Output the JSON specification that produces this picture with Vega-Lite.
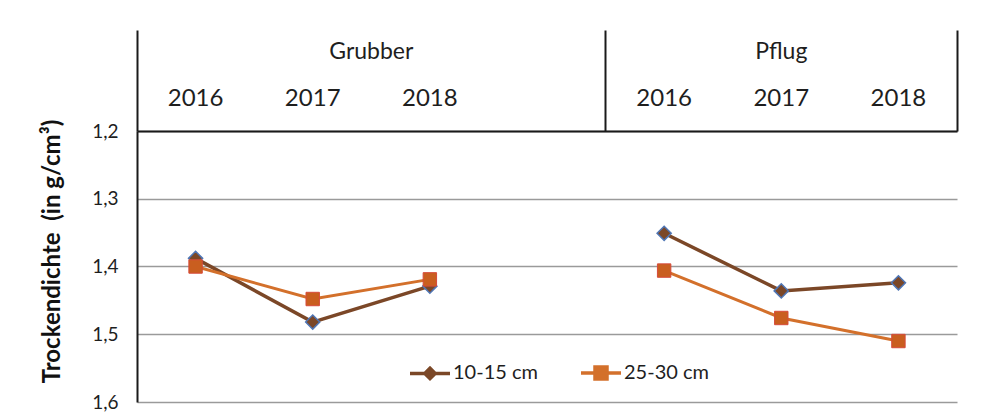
{
  "$schema": "https://vega.github.io/schema/vega-lite/v6.json",
  "autosize": {"type": "none"},
  "padding": {"left": 137, "top": 131, "right": 45, "bottom": 16},
  "width": 820,
  "height": 271,
  "background": "white",
  "config": {
    "view": {"stroke": null},
    "font": "Lato",
    "axis": {"labelFont": "Lato", "titleFont": "Lato", "labelColor": "#1e1e1e", "titleColor": "#111111"}
  },
  "data": {
    "values": [
      {"group": "Grubber", "year": "2016", "depth": "10-15 cm", "value": 1.388},
      {"group": "Grubber", "year": "2017", "depth": "10-15 cm", "value": 1.482},
      {"group": "Grubber", "year": "2018", "depth": "10-15 cm", "value": 1.429},
      {"group": "Pflug", "year": "2016", "depth": "10-15 cm", "value": 1.351},
      {"group": "Pflug", "year": "2017", "depth": "10-15 cm", "value": 1.436},
      {"group": "Pflug", "year": "2018", "depth": "10-15 cm", "value": 1.424},
      {"group": "Grubber", "year": "2016", "depth": "25-30 cm", "value": 1.400},
      {"group": "Grubber", "year": "2017", "depth": "25-30 cm", "value": 1.448},
      {"group": "Grubber", "year": "2018", "depth": "25-30 cm", "value": 1.419},
      {"group": "Pflug", "year": "2016", "depth": "25-30 cm", "value": 1.406},
      {"group": "Pflug", "year": "2017", "depth": "25-30 cm", "value": 1.476},
      {"group": "Pflug", "year": "2018", "depth": "25-30 cm", "value": 1.510}
    ]
  },
  "transform": [{"calculate": "datum.group + ' ' + datum.year", "as": "cat"}],
  "resolve": {"axis": {"x": "independent", "y": "independent"}},
  "layer": [
    {
      "transform": [{"filter": "datum.depth === '10-15 cm'"}],
      "mark": {"type": "line", "strokeWidth": 3.5},
      "encoding": {
        "x": {
          "field": "cat", "type": "ordinal",
          "scale": {"type": "band", "domain": ["Grubber 2016", "Grubber 2017", "Grubber 2018", "Grubber ", "Pflug 2016", "Pflug 2017", "Pflug 2018"], "paddingInner": 0, "paddingOuter": 0},
          "axis": {"orient": "top", "title": null, "values": ["Grubber 2016", "Pflug 2016"], "bandPosition": 0, "labels": false, "ticks": true, "tickSize": 101, "tickColor": "#1a1a1a", "tickWidth": 2, "domain": true, "domainColor": "#1a1a1a", "domainWidth": 2, "grid": false, "offset": 0}
        },
        "y": {
          "field": "value", "type": "quantitative",
          "scale": {"domain": [1.2, 1.6], "reverse": true, "nice": false, "zero": false},
          "axis": {"values": [1.2, 1.3, 1.4, 1.5, 1.6], "labelExpr": "replace(format(datum.value, '.1f'), '.', ',')", "ticks": false, "domain": true, "domainColor": "#1a1a1a", "domainWidth": 2, "grid": true, "gridColor": "#9a9a9a", "gridWidth": 1.6, "labelFontSize": 19, "labelPadding": 19, "title": "Trockendichte\u00a0\u00a0(in g/cm³)", "titleFontSize": 24, "titleFontWeight": "bold", "titlePadding": 27, "titleY": 120}
        },
        "color": {
          "field": "depth", "type": "nominal",
          "scale": {"domain": ["10-15 cm", "25-30 cm"], "range": ["#7b4727", "#d3702b"]},
          "legend": {
            "orient": "none", "legendX": 271, "legendY": 220, "direction": "horizontal", "title": null,
            "symbolSize": 1600, "symbolStrokeWidth": 3, "labelFontSize": 20, "labelFont": "Lato", "labelColor": "#1e1e1e",
            "columnPadding": 36, "labelOffset": 1, "padding": 0,
            "encode": {
              "symbols": {
                "update": {
                  "shape": {"signal": "datum.value === '10-15 cm' ? 'M-1,0H1M0,-0.26L0.26,0L0,0.26L-0.26,0Z' : 'M-1,0H1M-0.3,-0.3H0.3V0.3H-0.3Z'"},
                  "fill": {"scale": "color", "field": "value"},
                  "stroke": {"scale": "color", "field": "value"},
                  "strokeWidth": {"value": 3.5}
                }
              }
            }
          }
        },
        "detail": {"field": "group"}
      }
    },
    {
      "transform": [{"filter": "datum.depth === '25-30 cm'"}],
      "mark": {"type": "line", "strokeWidth": 3},
      "encoding": {
        "x": {
          "field": "cat", "type": "ordinal",
          "axis": {"orient": "top", "title": null, "values": ["Pflug 2018"], "bandPosition": 1, "labels": false, "ticks": true, "tickSize": 101, "tickColor": "#1a1a1a", "tickWidth": 2, "domain": false, "grid": false, "offset": 0}
        },
        "y": {"field": "value", "type": "quantitative", "axis": null},
        "color": {"field": "depth", "type": "nominal"},
        "detail": {"field": "group"}
      }
    },
    {
      "transform": [{"filter": "datum.depth === '10-15 cm'"}],
      "mark": {"type": "point", "shape": "diamond", "filled": true, "size": 200, "fill": "#7b4727", "stroke": "#4f76b5", "strokeWidth": 1.5, "opacity": 1},
      "encoding": {
        "x": {
          "field": "cat", "type": "ordinal",
          "axis": {"orient": "top", "title": null, "values": ["Grubber 2016", "Grubber 2017", "Grubber 2018", "Pflug 2016", "Pflug 2017", "Pflug 2018"], "bandPosition": 0.5, "labelExpr": "split(datum.value, ' ')[1]", "labelFontSize": 24, "labelPadding": 21, "labelAngle": 0, "ticks": false, "domain": false, "grid": false, "offset": 0}
        },
        "y": {"field": "value", "type": "quantitative", "axis": null}
      }
    },
    {
      "transform": [{"filter": "datum.depth === '25-30 cm'"}],
      "mark": {"type": "point", "shape": "square", "filled": true, "size": 180, "fill": "#c95e1f", "stroke": "#d64a3a", "strokeWidth": 1, "opacity": 1},
      "encoding": {
        "x": {
          "field": "cat", "type": "ordinal",
          "axis": {"orient": "top", "title": null, "values": ["Grubber 2017", "Pflug 2017"], "bandPosition": 0.5, "labelExpr": "split(datum.value, ' ')[0]", "labelOffset": {"condition": {"test": "datum.value === 'Grubber 2017'", "value": 58.6}, "value": 0}, "labelFontSize": 23, "labelPadding": 68, "labelAngle": 0, "ticks": false, "domain": false, "grid": false, "offset": 0}
        },
        "y": {"field": "value", "type": "quantitative", "axis": null}
      }
    }
  ]
}
